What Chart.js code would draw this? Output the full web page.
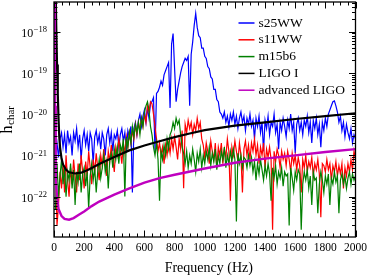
<!DOCTYPE html>
<html lang="en">
<head>
    <meta charset="UTF-8">
    <title>h_char spectra</title>
    <script src="https://cdn.jsdelivr.net/npm/chart.js"></script>
    <style>
        body { margin: 0; background: #fff; }
    </style>
</head>
<body>
    <canvas id="hchar-chart" width="371" height="275"></canvas>
    <script>
        // frequency grid of the simulated spectra (Hz)
        const frequencies = [
            10, 20, 30, 40, 50, 60, 70, 80, 90, 100,
            110, 120, 130, 140, 150, 160, 170, 180, 190, 200,
            210, 220, 230, 240, 250, 260, 270, 280, 290, 300,
            310, 320, 330, 340, 350, 360, 370, 380, 390, 400,
            410, 420, 430, 440, 450, 460, 470, 480, 490, 500,
            510, 520, 530, 540, 550, 560, 570, 580, 590, 600,
            610, 620, 630, 640, 650, 660, 670, 680, 690, 700,
            710, 720, 730, 740, 750, 760, 770, 780, 790, 800,
            810, 820, 830, 840, 850, 860, 870, 880, 890, 900,
            910, 920, 930, 940, 950, 960, 970, 980, 990, 1000,
            1010, 1020, 1030, 1040, 1050, 1060, 1070, 1080, 1090, 1100,
            1110, 1120, 1130, 1140, 1150, 1160, 1170, 1180, 1190, 1200,
            1210, 1220, 1230, 1240, 1250, 1260, 1270, 1280, 1290, 1300,
            1310, 1320, 1330, 1340, 1350, 1360, 1370, 1380, 1390, 1400,
            1410, 1420, 1430, 1440, 1450, 1460, 1470, 1480, 1490, 1500,
            1510, 1520, 1530, 1540, 1550, 1560, 1570, 1580, 1590, 1600,
            1610, 1620, 1630, 1640, 1650, 1660, 1670, 1680, 1690, 1700,
            1710, 1720, 1730, 1740, 1750, 1760, 1770, 1780, 1790, 1800,
            1810, 1820, 1830, 1840, 1850, 1860, 1870, 1880, 1890, 1900,
            1910, 1920, 1930, 1940, 1950, 1960, 1970, 1980, 1990, 2000
        ];

        // log10(h_char) of each model, one value per frequency above
        const s25WW = [
            -20.95, -20.7, -21.05, -20.6, -20.45, -20.8, -20.5, -20.95, -20.4, -20.7,
            -20.55, -21.0, -20.45, -20.65, -20.35, -20.8, -20.5, -21.1, -20.6, -20.4,
            -20.75, -20.5, -20.9, -20.45, -20.6, -21.2, -20.55, -20.4, -20.7, -20.5,
            -20.85, -20.45, -20.6, -21.0, -20.5, -20.35, -20.7, -20.45, -20.9, -20.5,
            -20.6, -20.4, -20.8, -20.5, -20.35, -20.65, -20.45, -20.9, -20.4, -20.55,
            -20.3, -21.9, -20.35, -20.2, -20.5, -20.15, -20.0, -20.3, -20.05, -19.9,
            -20.2, -19.85, -20.1, -19.75, -19.7, -19.6, -20.9, -19.5, -19.45, -19.35,
            -19.2, -19.3, -19.05, -18.95, -18.85, -18.75, -19.85, -18.3, -18.05, -18.9,
            -19.7, -19.4, -19.2, -19.0, -18.85, -18.75, -18.65, -18.7, -18.6, -19.8,
            -18.55, -18.25, -17.85, -17.56, -17.9, -18.1, -18.15, -18.4, -18.4, -18.6,
            -18.65, -18.85, -18.9, -19.1, -19.15, -19.4, -19.4, -19.65, -19.7, -19.95,
            -20.0, -20.1, -19.95, -20.2, -20.05, -20.3, -20.0, -20.15, -19.95, -20.25,
            -20.05, -20.35, -20.1, -19.95, -20.2, -20.05, -20.4, -20.1, -20.25, -20.0,
            -20.3, -20.15, -20.6, -20.1, -20.3, -20.05, -20.45, -20.2, -20.9, -20.15,
            -20.35, -20.05, -20.5, -20.2, -20.3, -20.0, -20.45, -20.25, -20.85, -20.2,
            -20.4, -20.1, -20.3, -20.55, -20.15, -20.35, -20.0, -20.4, -20.2, -20.95,
            -20.25, -20.1, -20.4, -20.2, -20.5, -20.15, -20.3, -20.05, -20.45, -20.2,
            -20.7, -20.15, -20.35, -20.1, -20.5, -20.25, -20.8, -20.2, -20.4, -20.1,
            -20.3, -20.0, -19.9, -19.8, -19.7, -19.68, -19.8, -19.95, -20.2, -20.05,
            -20.4, -20.2, -20.55, -20.25, -20.45, -20.6, -20.35, -20.7, -20.5, -20.6
        ];
        const s11WW = [
            -21.3, -22.7, -22.2, -21.4, -21.8, -21.2, -21.9, -21.0, -21.6, -22.0,
            -21.3, -21.7, -21.1, -21.5, -21.9, -21.2, -21.6, -21.0, -21.4, -21.8,
            -21.15, -21.5, -20.9, -21.3, -21.7, -21.1, -21.4, -20.95, -21.3, -21.6,
            -21.0, -21.25, -20.85, -21.2, -21.5, -20.9, -21.15, -20.75, -21.1, -21.4,
            -20.8, -21.0, -20.6, -20.9, -21.2, -20.7, -20.95, -20.55, -20.8, -20.45,
            -20.7, -20.4, -20.6, -20.25, -20.5, -20.2, -20.4, -20.1, -20.3, -20.0,
            -20.2, -19.8, -19.95, -19.7, -19.75, -20.0, -20.3, -20.6, -20.9, -20.7,
            -21.0, -20.8, -21.2, -20.75, -21.0, -20.7, -20.95, -20.6, -20.85, -20.55,
            -20.8, -21.1, -20.6, -20.85, -20.4, -21.8, -20.25, -20.45, -20.15, -20.35,
            -20.2, -20.5, -20.25, -20.4, -20.1, -20.35, -20.2, -20.6, -20.75, -21.05,
            -20.7, -20.9, -21.2, -20.65, -20.9, -21.1, -20.7, -21.3, -20.8, -21.0,
            -20.7, -21.2, -20.85, -21.05, -20.6, -20.9, -22.1, -20.8, -21.0, -20.65,
            -20.9, -21.15, -20.7, -21.0, -21.9, -20.85, -20.65, -21.0, -20.75, -21.1,
            -20.7, -20.9, -20.6, -21.0, -20.75, -21.2, -20.8, -21.0, -20.7, -21.3,
            -20.85, -21.05, -20.8, -21.1, -22.8, -20.9, -21.15, -20.85, -21.0, -21.3,
            -20.9, -21.1, -20.95, -21.25, -20.9, -21.1, -21.4, -20.95, -21.2, -21.0,
            -21.35, -21.05, -21.25, -21.9, -21.1, -21.3, -21.0, -21.4, -21.15, -21.3,
            -21.05, -21.5, -21.2, -21.35, -21.1, -21.45, -22.5, -21.2, -21.25, -21.4,
            -21.1, -21.35, -21.2, -21.6, -21.25, -21.4, -21.15, -21.5, -21.25, -21.45,
            -21.2, -21.8, -21.3, -21.5, -21.2, -21.4, -21.1, -21.35, -20.9, -21.1
        ];
        const m15b6 = [
            -22.3, -21.2, -22.0, -21.5, -21.1, -21.7, -21.3, -22.0, -21.4, -21.6,
            -21.2, -21.8, -21.35, -22.2, -21.4, -21.65, -21.2, -21.9, -21.45, -21.3,
            -21.75, -21.4, -22.3, -21.5, -21.2, -21.6, -21.3, -21.9, -21.4, -21.1,
            -21.55, -21.3, -21.0, -21.4, -21.15, -21.8, -21.1, -20.95, -21.3, -20.85,
            -21.1, -20.8, -21.2, -20.75, -20.9, -20.6, -22.0, -20.55, -20.8, -20.45,
            -20.7, -20.3, -20.55, -20.25, -20.45, -20.2, -20.5, -20.1, -20.3, -19.95,
            -19.8, -19.7, -19.9, -20.3, -20.5, -20.8, -21.0, -20.7, -21.1, -22.1,
            -20.9, -21.1, -20.75, -21.0, -20.6, -20.85, -20.5, -20.4, -20.2, -20.35,
            -20.1, -20.25, -20.15, -20.5, -20.8, -20.95, -21.2, -20.9, -21.3, -21.0,
            -21.2, -20.85, -21.1, -21.4, -20.95, -21.15, -20.85, -21.3, -21.0, -21.2,
            -20.9, -21.1, -20.8, -21.25, -20.95, -21.15, -20.85, -21.35, -21.0, -21.2,
            -20.9, -21.1, -20.8, -21.3, -21.0, -21.2, -20.9, -21.15, -20.85, -21.1,
            -22.6, -20.95, -21.2, -21.0, -21.3, -21.05, -21.1, -21.3, -21.0, -21.25,
            -21.05, -21.4, -21.15, -21.6, -21.2, -21.45, -21.1, -21.35, -21.6, -21.25,
            -21.5, -21.2, -21.45, -22.1, -21.3, -21.55, -21.25, -21.7, -21.4, -21.55,
            -21.3, -21.75, -21.4, -21.5, -21.45, -22.7, -21.3, -21.55, -21.85, -21.4,
            -21.6, -21.35, -21.45, -22.8, -21.7, -21.4, -21.6, -21.35, -21.8, -21.5,
            -22.2, -21.4, -21.6, -21.55, -22.4, -21.7, -21.4, -21.6, -21.9, -21.5,
            -21.7, -21.45, -22.2, -21.55, -21.7, -21.4, -21.65, -21.5, -22.4, -21.6,
            -21.45, -21.7, -21.5, -21.8, -21.55, -21.4, -21.7, -21.45, -21.6, -21.5
        ];

        // detector noise curves, log10(h) at their own frequencies
        const ligoFrequencies = [10, 15, 20, 25, 30, 35, 40, 50, 60, 80, 100, 140, 180, 220, 260, 300,
            400, 500, 600, 700, 800, 900, 1000, 1200, 1400, 1600, 1800, 2000];
        const ligoI = [-16.8, -17.9, -18.8, -19.5, -20.1, -20.55, -20.8, -21.08, -21.22, -21.35, -21.41,
            -21.44, -21.42, -21.36, -21.29, -21.21, -21.04, -20.88, -20.76, -20.66, -20.56, -20.47,
            -20.39, -20.28, -20.2, -20.12, -20.05, -19.98];
        const advancedLigoFrequencies = [3, 5, 7, 10, 13, 16, 20, 30, 50, 70, 100, 130, 170, 200, 250, 300,
            400, 500, 600, 700, 800, 1000, 1200, 1400, 1600, 1800, 2000];
        const advancedLigo = [-16.5, -18.5, -19.8, -20.9, -21.5, -21.8, -22.0, -22.3, -22.47, -22.54,
            -22.56, -22.52, -22.43, -22.36, -22.23, -22.12, -21.95, -21.8, -21.66, -21.55, -21.47,
            -21.32, -21.18, -21.08, -21.0, -20.92, -20.85];

        const seriesLabels = ['s25WW', 's11WW', 'm15b6', 'LIGO I', 'advanced LIGO'];
        const seriesColors = ['#0000ff', '#ff0000', '#008000', '#000000', '#bf00bf'];
        const xTickLabels = [0, 200, 400, 600, 800, 1000, 1200, 1400, 1600, 1800, 2000];
        const yTickExponents = [-22, -21, -20, -19, -18];

        const serif = '"Liberation Serif", "DejaVu Serif", serif';

        function toPoints(xs, logValues) {
            return xs.map((f, i) => ({ x: f, y: Math.pow(10, logValues[i]) }));
        }

        // matplotlib look: frame, inward ticks, log labels, legend and axis titles
        const axesDecor = {
            id: 'axesDecor',
            afterDraw(chart) {
                const ctx = chart.ctx;
                const a = chart.chartArea;
                const x = chart.scales.x;
                const y = chart.scales.y;
                ctx.save();
                ctx.strokeStyle = '#000';
                ctx.fillStyle = '#000';

                ctx.lineWidth = 1;
                ctx.beginPath();
                for (let f = 0; f <= 2000; f += 50) {
                    const px = Math.round(x.getPixelForValue(f)) + 0.5;
                    const len = xTickLabels.includes(f) ? 6.5 : 3.5;
                    ctx.moveTo(px, a.bottom); ctx.lineTo(px, a.bottom - len);
                    ctx.moveTo(px, a.top); ctx.lineTo(px, a.top + len);
                }
                for (let e = -24; e <= -18; e++) {
                    for (let m = 1; m <= 9; m++) {
                        const v = m * Math.pow(10, e);
                        if (v < y.min || v > y.max) continue;
                        const py = Math.round(y.getPixelForValue(v)) + 0.5;
                        const len = m === 1 ? 6.5 : 3.5;
                        ctx.moveTo(a.left, py); ctx.lineTo(a.left + len, py);
                        ctx.moveTo(a.right, py); ctx.lineTo(a.right - len, py);
                    }
                }
                ctx.stroke();

                ctx.lineWidth = 1.3;
                ctx.strokeRect(a.left, a.top, a.right - a.left, a.bottom - a.top);

                // y tick labels 10^n
                ctx.textBaseline = 'alphabetic';
                ctx.textAlign = 'left';
                yTickExponents.forEach(e => {
                    const py = y.getPixelForValue(Math.pow(10, e));
                    const sup = '\u2212' + Math.abs(e);
                    ctx.font = '8.5px ' + serif;
                    const supW = ctx.measureText(sup).width;
                    ctx.font = '12px ' + serif;
                    const baseW = ctx.measureText('10').width;
                    const right = a.left - 7;
                    ctx.fillText('10', right - supW - baseW - 0.5, py + 5);
                    ctx.font = '8.5px ' + serif;
                    ctx.fillText(sup, right - supW, py + 0.5);
                });

                // legend inside the axes, top right
                chart.data.datasets.forEach((ds, i) => {
                    const ly = a.top + 21 + i * 16.8;
                    ctx.strokeStyle = ds.borderColor;
                    ctx.lineWidth = 1.5;
                    ctx.beginPath();
                    ctx.moveTo(a.right - 117, ly);
                    ctx.lineTo(a.right - 101, ly);
                    ctx.stroke();
                    ctx.font = '13.5px ' + serif;
                    ctx.textBaseline = 'middle';
                    ctx.fillText(ds.label, a.right - 97, ly);
                });

                // x title
                ctx.textBaseline = 'alphabetic';
                ctx.textAlign = 'center';
                ctx.font = '14px ' + serif;
                ctx.fillText('Frequency (Hz)', (a.left + a.right) / 2 + 4, 271.5);

                // y title h_char, rotated
                ctx.translate(12, (a.top + a.bottom) / 2 + 14);
                ctx.rotate(-Math.PI / 2);
                ctx.textAlign = 'left';
                ctx.font = '16px ' + serif;
                ctx.fillText('h', 0, 0);
                const hW = ctx.measureText('h').width;
                ctx.font = '11px ' + serif;
                ctx.fillText('char', hW + 0.5, 2);
                ctx.restore();
            }
        };

        const lineStyle = (i, width, order) => ({
            label: seriesLabels[i],
            borderColor: seriesColors[i],
            backgroundColor: seriesColors[i],
            borderWidth: width,
            order: order
        });

        new Chart(document.getElementById('hchar-chart'), {
            type: 'line',
            data: {
                datasets: [
                    { ...lineStyle(0, 1.2, 5), data: toPoints(frequencies, s25WW) },
                    { ...lineStyle(1, 1.2, 4), data: toPoints(frequencies, s11WW) },
                    { ...lineStyle(2, 1.2, 3), data: toPoints(frequencies, m15b6) },
                    { ...lineStyle(3, 2.2, 2), data: toPoints(ligoFrequencies, ligoI) },
                    { ...lineStyle(4, 2.4, 1), data: toPoints(advancedLigoFrequencies, advancedLigo) }
                ]
            },
            options: {
                responsive: false,
                animation: false,
                devicePixelRatio: 1,
                layout: { padding: { top: 2, right: 12, left: 0, bottom: 0 } },
                elements: { point: { radius: 0 }, line: { tension: 0 } },
                plugins: {
                    legend: { display: false },
                    tooltip: { enabled: false }
                },
                scales: {
                    x: {
                        type: 'linear',
                        min: 0,
                        max: 2000,
                        grid: { display: false, drawTicks: false },
                        border: { display: false },
                        ticks: {
                            autoSkip: false,
                            maxRotation: 0,
                            padding: 4,
                            color: '#000',
                            font: { family: serif, size: 11.5 },
                            callback: v => String(v)
                        },
                        afterBuildTicks: scale => { scale.ticks = xTickLabels.map(v => ({ value: v })); },
                        afterFit: scale => { scale.height = 38; }
                    },
                    y: {
                        type: 'logarithmic',
                        min: 1.05e-23,
                        max: 5.2e-18,
                        grid: { display: false },
                        border: { display: false },
                        ticks: { display: false },
                        afterFit: scale => { scale.width = 54; }
                    }
                }
            },
            plugins: [axesDecor]
        });
    </script>
</body>
</html>
